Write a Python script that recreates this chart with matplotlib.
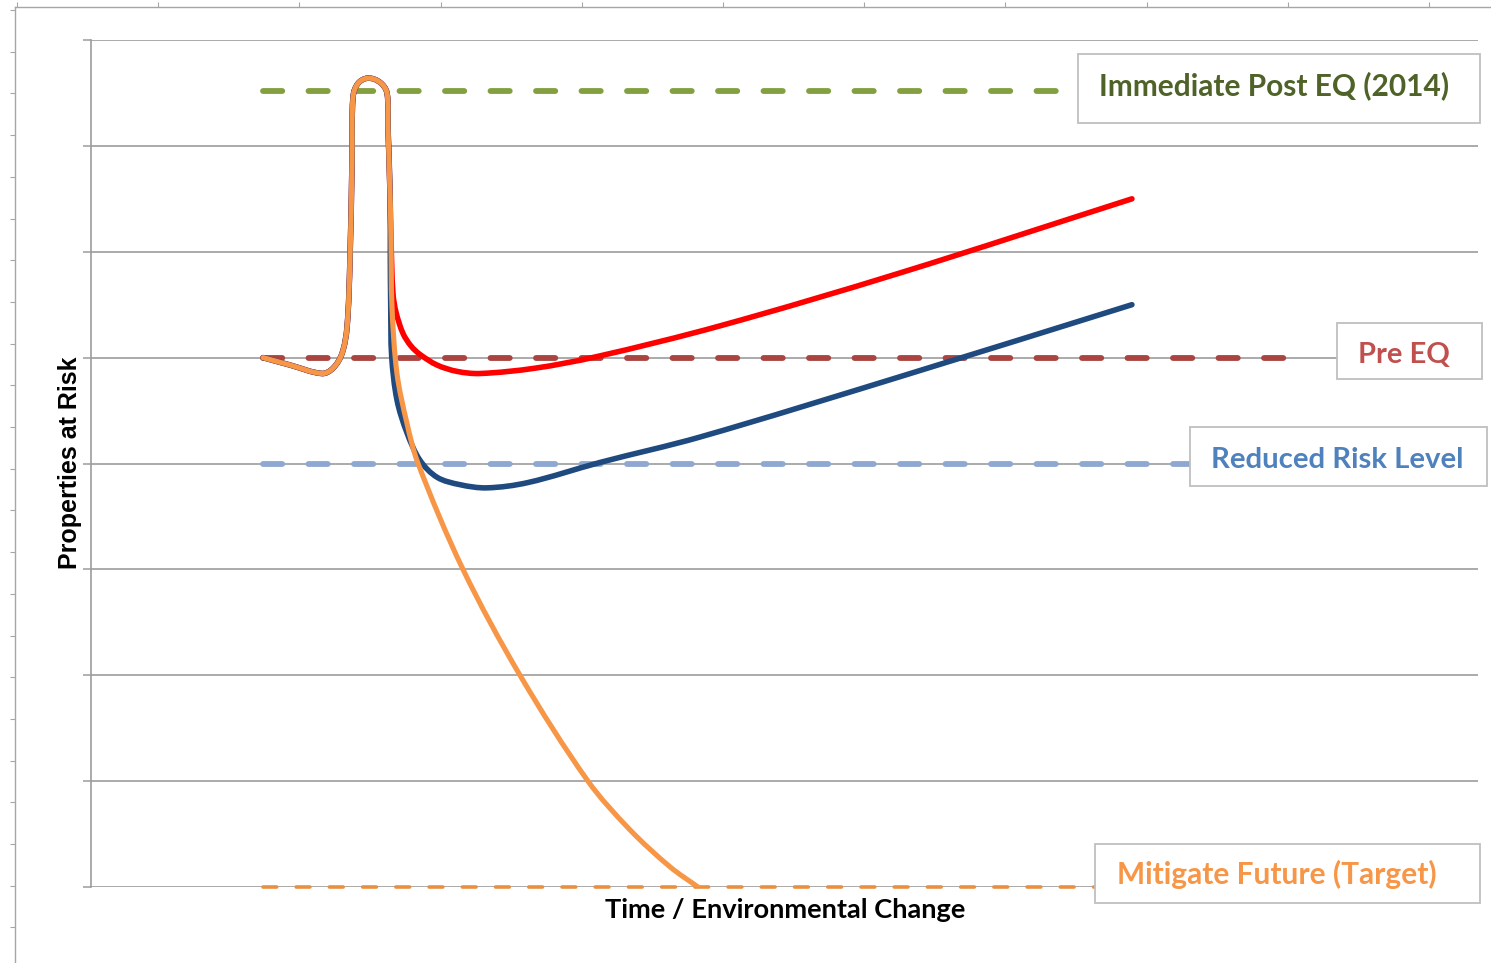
import matplotlib
matplotlib.use('Agg')
import numpy as np
import matplotlib.pyplot as plt
from matplotlib.patches import Rectangle, PathPatch
from matplotlib.path import Path
from matplotlib.ticker import FixedLocator

W, H = 1491, 963

# shared start: small dip then the earthquake spike
spike_x = [12.40, 14.35, 16.65, 17.45, 18.10, 18.46, 18.67, 18.82, 18.89, 19.25, 19.97, 20.84, 21.34, 21.41, 21.56]
spike_y = [5.00, 4.93, 4.85, 4.90, 5.04, 5.29, 5.92, 6.87, 7.46, 7.59, 7.64, 7.60, 7.50, 7.18, 6.55]

# do nothing (red)
red_x = [21.63, 21.77, 21.99, 22.49, 23.07, 23.72, 24.95, 26.39, 28.05, 32.0, 36.48, 45.35, 58.33, 75.05]
red_y = [6.11, 5.61, 5.43, 5.23, 5.11, 5.03, 4.93, 4.87, 4.85, 4.90, 5.01, 5.30, 5.80, 6.50]

# reduced risk (blue)
blue_x = [21.58, 21.61, 21.68, 22.06, 22.78, 23.72, 24.95, 26.60, 28.55, 31.5, 36.70, 43.91, 58.33, 75.05]
blue_y = [5.92, 5.48, 5.01, 4.60, 4.29, 4.03, 3.87, 3.80, 3.77, 3.82, 4.01, 4.25, 4.82, 5.50]

# mitigate (orange)
orange_x = [21.63, 21.70, 22.06, 22.78, 23.58, 26.82, 30.93, 35.83, 38.86, 41.75, 43.76]
orange_y = [6.11, 5.48, 4.85, 4.38, 4.00, 3.00, 2.00, 1.00, 0.54, 0.19, 0.00]

# reference levels
level_names = ['Immediate Post EQ (2014)', 'Pre EQ', 'Reduced Risk Level', 'Mitigate Future (Target)']
level_y = [7.52, 5.0, 4.0, 0.0]
level_start = [12.40, 12.40, 12.40, 12.40]
level_end = [70.9, 87.67, 79.2, 72.4]

line_cols = ['#82A040', '#A94440', '#8EA8D2', '#E8903F']
text_cols = ['#4F6228', '#C0504D', '#4F81BD', '#F79646']
line_w = [4.2, 4.2, 4.2, 2.6]
dash_pat = [(3.3, 4.5), (3.3, 4.5), (3.3, 4.5), (3.8, 5.4)]
label_size = [21.5, 21.0, 21.2, 21.5]
# label boxes in pixels: x0, y0, x1, y1, text x, text baseline
boxes = [(1078, 54, 1480, 123, 1099, 95),
         (1337, 323, 1482, 379, 1358, 363),
         (1190, 427, 1487, 486, 1211, 468),
         (1095, 844, 1480, 903, 1117, 884)]


def smooth_path(ax, xs, ys):
    # excel style smoothed line: bezier segments through every point,
    # tangents worked out in screen space so uneven spacing does not kink
    tr = ax.transData
    P = tr.transform(np.column_stack([xs, ys]))
    n = len(P)

    def unit(v):
        d = np.hypot(v[0], v[1])
        return v / d if d > 0 else v

    tang = [unit(P[min(i + 1, n - 1)] - P[max(i - 1, 0)]) for i in range(n)]
    verts = [P[0]]
    codes = [Path.MOVETO]
    for i in range(n - 1):
        seg = np.hypot(*(P[i + 1] - P[i])) / 3
        verts += [P[i] + tang[i] * seg, P[i + 1] - tang[i + 1] * seg, P[i + 1]]
        codes += [Path.CURVE4] * 3
    return Path(tr.inverted().transform(np.array(verts)), codes)


fig = plt.figure(figsize=(W / 100, H / 100), dpi=100)

# outer sheet frame with ruler ticks
frame = fig.add_axes([15 / W, 0, 1 - 15 / W, 1 - 7 / H])
frame.set_xlim(15, W)
frame.set_ylim(H, 7)
for s in ['right', 'bottom']:
    frame.spines[s].set_visible(False)
for s in ['top', 'left']:
    frame.spines[s].set_color('#A6A6A6')
    frame.spines[s].set_linewidth(1.0)
frame.xaxis.set_ticks_position('top')
frame.xaxis.set_major_locator(FixedLocator([17 + 141.2 * k for k in range(11)]))
frame.yaxis.set_major_locator(FixedLocator([10 + 41.7 * k for k in range(23)]))
frame.tick_params(axis='both', direction='out', length=3.5, width=0.8, color='#A6A6A6',
                  labelleft=False, labeltop=False, labelbottom=False)

ax = fig.add_axes([91 / W, 1 - 887 / H, (1478 - 91) / W, (887 - 40) / H])
ax.set_xlim(0, 100)
ax.set_ylim(0, 8)
ax.set_yticks(range(9))
ax.set_xticks([])
ax.grid(axis='y', color='#9C9C9C', linewidth=1.2)
ax.set_axisbelow(True)
ax.tick_params(axis='y', direction='out', length=5.8, width=1.1, color='#9C9C9C', labelleft=False)
for s in ['top', 'right', 'bottom']:
    ax.spines[s].set_visible(False)
ax.spines['left'].set_color('#9C9C9C')
ax.spines['left'].set_linewidth(1.2)

for i in range(4):
    ax.plot([level_start[i], level_end[i]], [level_y[i], level_y[i]], color=line_cols[i],
            lw=line_w[i], dashes=dash_pat[i], dash_capstyle='round', clip_on=False, zorder=3)

series = [(red_x, red_y, '#FF0000', 4.0, 4),
          (blue_x, blue_y, '#1F4A7F', 4.0, 5),
          (orange_x, orange_y, '#F79646', 3.7, 6)]
for xs, ys, col, lw, z in series:
    ax.add_patch(PathPatch(smooth_path(ax, spike_x + xs, spike_y + ys), fill=False, edgecolor=col,
                           lw=lw, capstyle='round', joinstyle='round', zorder=z))

for i, (x0, y0, x1, y1, tx, tb) in enumerate(boxes):
    fig.add_artist(Rectangle((x0 / W, 1 - y1 / H), (x1 - x0) / W, (y1 - y0) / H,
                             transform=fig.transFigure, facecolor='white',
                             edgecolor='#BFBFBF', linewidth=1.3, zorder=10))
    fig.text(tx / W, 1 - tb / H, level_names[i], color=text_cols[i], fontsize=label_size[i],
             fontweight='bold', family='Lato', ha='left', va='baseline', zorder=11)

fig.text(785 / W, 1 - 918 / H, 'Time / Environmental Change', fontsize=19.6, fontweight='bold',
         family='Lato', ha='center', va='baseline')
fig.text(70 / W, 1 - 463 / H, 'Properties at Risk', fontsize=18, fontweight='bold',
         family='Liberation Sans', rotation=90, ha='center', va='center')

fig.savefig('out.png', dpi=100)
